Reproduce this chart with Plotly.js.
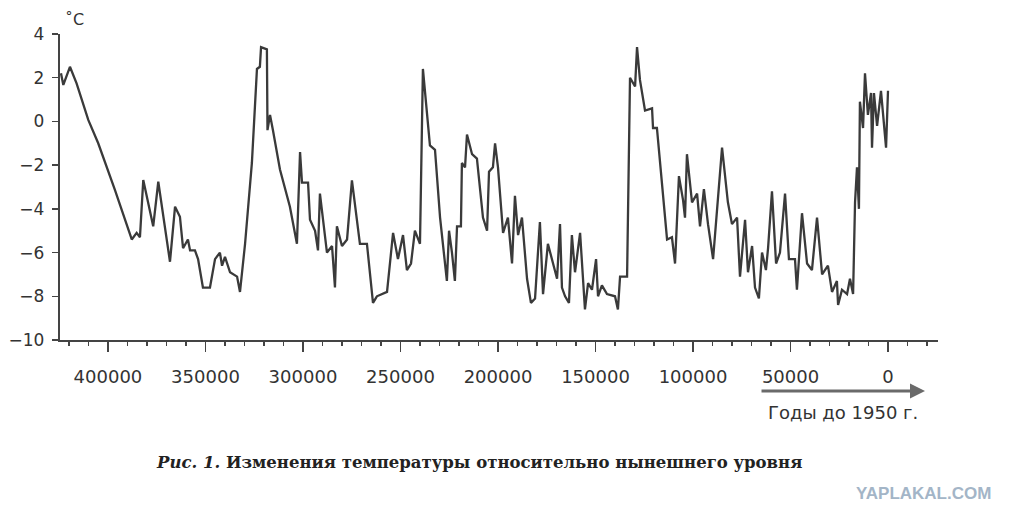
<!DOCTYPE html>
<html>
<head>
<meta charset="utf-8">
<script src="https://cdn.plot.ly/plotly-3.0.1.min.js"></script>
<style>html,body{margin:0;padding:0;background:#fff;}#chart{width:1018px;height:523px;}</style>
</head>
<body>
<div id="chart"></div>
<script>
// Years before 1950 (x) and temperature change, °C (y)
var years = [424100, 422900, 419500, 416100, 410100, 405000, 396400, 387800, 385300, 383600,
  381900, 376800, 374200, 368200, 365600, 363100, 361500, 359000, 357900, 355400,
  353800, 351300, 347700, 345100, 342600, 341500, 340000, 337400, 333800, 332300,
  329700, 326200, 323600, 322100, 321500, 318500, 318200, 316900, 315400, 311800,
  306700, 303100, 301500, 300500, 297400, 296400, 293800, 292300, 291300, 289700,
  287700, 285100, 283600, 282600, 280000, 277400, 274900, 270800, 267200, 264100,
  262100, 256900, 253800, 251300, 248700, 246700, 244600, 242600, 240000, 238500,
  234900, 232300, 229700, 226200, 225100, 223600, 222100, 221000, 219000, 218500,
  216900, 215900, 213300, 210800, 207700, 205600, 204600, 202600, 201500, 200000,
  197400, 194900, 192800, 191300, 189700, 187700, 185100, 183100, 181000, 178500,
  176900, 174400, 171800, 169700, 168200, 167200, 165600, 163600, 162100, 160500,
  157900, 155400, 153800, 151800, 149700, 148700, 146700, 144100, 140000, 138500,
  137400, 133800, 132300, 129700, 128700, 127200, 124600, 121000, 120500, 118500,
  113300, 110800, 109200, 107200, 105100, 104100, 103100, 100500, 97900, 96400,
  94400, 92300, 89700, 85100, 82100, 80000, 77400, 75900, 73300, 71800,
  69700, 68200, 66200, 64600, 62600, 61500, 59500, 57400, 55400, 52800,
  50800, 47700, 46700, 44100, 41500, 39000, 36400, 33800, 30800, 28700,
  26200, 25600, 23600, 21000, 19500, 17900, 16900, 15900, 14900, 14400,
  12800, 11800, 10300, 8700, 8200, 7200, 5600, 3600, 2600, 1000,
  0];
var temps = [2.2, 1.67, 2.5, 1.74, 0.07, -1.0, -3.14, -5.4, -5.1, -5.3,
  -2.68, -4.8, -2.76, -6.42, -3.9, -4.36, -5.8, -5.4, -5.9, -5.9,
  -6.3, -7.6, -7.6, -6.3, -6.0, -6.6, -6.2, -6.9, -7.1, -7.8,
  -5.6, -1.9, 2.4, 2.5, 3.4, 3.3, -0.4, 0.3, -0.4, -2.2,
  -3.9, -5.6, -1.4, -2.8, -2.8, -4.5, -5.0, -5.9, -3.3, -4.6,
  -6.0, -5.7, -7.6, -4.8, -5.7, -5.4, -2.7, -5.6, -5.6, -8.3,
  -8.0, -7.8, -5.1, -6.3, -5.2, -6.8, -6.5, -5.0, -5.6, 2.4,
  -1.1, -1.3, -4.4, -7.3, -5.0, -6.0, -7.3, -4.8, -4.8, -1.9,
  -2.1, -0.6, -1.5, -1.7, -4.4, -5.0, -2.3, -2.1, -1.0, -2.1,
  -5.1, -4.4, -6.5, -3.4, -5.2, -4.4, -7.2, -8.3, -8.1, -4.6,
  -7.9, -5.6, -6.5, -7.2, -4.7, -7.6, -8.0, -8.3, -5.2, -6.9,
  -5.1, -8.6, -7.4, -7.7, -6.3, -8.0, -7.5, -7.9, -8.0, -8.6,
  -7.1, -7.1, 2.0, 1.6, 3.4, 1.9, 0.5, 0.6, -0.3, -0.3,
  -5.4, -5.3, -6.5, -2.5, -3.6, -4.4, -1.5, -3.7, -3.3, -4.8,
  -3.1, -4.7, -6.3, -1.2, -3.7, -4.7, -4.4, -7.1, -4.5, -6.9,
  -5.7, -7.6, -8.1, -6.0, -6.8, -5.8, -3.2, -6.5, -6.0, -3.3,
  -6.3, -6.3, -7.7, -4.2, -6.5, -6.8, -4.4, -7.0, -6.6, -7.8,
  -7.3, -8.4, -7.7, -7.9, -7.2, -7.9, -3.7, -2.1, -4.0, 0.9,
  -0.3, 2.2, 0.3, 1.3, -1.2, 1.3, -0.2, 1.4, 0.4, -1.2,
  1.4];

var xTickVals = [400000, 350000, 300000, 250000, 200000, 150000, 100000, 50000, 0];
var xTickText = ['400000', '350000', '300000', '250000', '200000', '150000', '100000', '50000', '0'];
var yTickVals = [4, 2, 0, -2, -4, -6, -8, -10];
var yTickText = ['4', '2', '0', '\u22122', '\u22124', '\u22126', '\u22128', '\u221210'];

var unitLabel = '\u02DAC';
var xAxisLabel = 'Годы до 1950 г.';
var captionText = '<b><i>Рис. 1.</i> Изменения температуры относительно нынешнего уровня</b>';
var watermark = '<b>YAPLAKAL.COM</b>';

var axisColor = '#444';
var tickFont = {family: 'DejaVu Sans, Liberation Sans, sans-serif', size: 17, color: '#333'};
var xTickFont = {family: 'DejaVu Sans, Liberation Sans, sans-serif', size: 18, color: '#333'};

var trace = {
  x: years, y: temps, type: 'scatter', mode: 'lines',
  line: {color: '#3a3a3a', width: 2.3},
  hoverinfo: 'skip'
};

var layout = {
  width: 1018, height: 523,
  margin: {l: 60, r: 80, t: 34, b: 183, pad: 0},
  paper_bgcolor: '#ffffff', plot_bgcolor: '#ffffff',
  showlegend: false,
  xaxis: {
    range: [424600, -25640], fixedrange: true,
    tickmode: 'array', tickvals: xTickVals, ticktext: xTickText,
    ticks: 'outside', ticklen: 10, tickwidth: 1.8, tickcolor: axisColor,
    showline: true, linecolor: axisColor, linewidth: 2.2,
    showgrid: false, zeroline: false,
    tickfont: xTickFont, ticklabelstandoff: 9,
    minor: {dtick: 10000, tick0: 0, ticks: 'outside', ticklen: 4, tickwidth: 1.8, tickcolor: axisColor, showgrid: false}
  },
  yaxis: {
    range: [-10, 4], fixedrange: true,
    tickmode: 'array', tickvals: yTickVals, ticktext: yTickText,
    ticks: 'outside', ticklen: 6, tickwidth: 1.5, tickcolor: axisColor,
    showline: true, linecolor: axisColor, linewidth: 2.2,
    showgrid: false, zeroline: false,
    tickfont: tickFont, ticklabelstandoff: 4
  },
  annotations: [
    {text: unitLabel, xref: 'paper', yref: 'paper', x: 0.003, y: 1.046, xanchor: 'left', yanchor: 'middle',
     showarrow: false, font: {family: 'DejaVu Sans, sans-serif', size: 16, color: '#333'}},
    {text: '', xref: 'paper', yref: 'paper', x: 0.9852, y: -0.1667, showarrow: true,
     ax: -165, ay: 0, arrowhead: 2, arrowsize: 1, arrowwidth: 3, arrowcolor: '#6a6a6a'},
    {text: xAxisLabel, xref: 'paper', yref: 'paper', x: 0.8918, y: -0.2353, xanchor: 'center', yanchor: 'middle',
     showarrow: false, font: {family: 'DejaVu Sans, sans-serif', size: 18, color: '#333'}},
    {text: captionText, xref: 'paper', yref: 'paper', x: 0.477, y: -0.3987, xanchor: 'center', yanchor: 'middle',
     showarrow: false, font: {family: 'DejaVu Serif, Liberation Serif, serif', size: 16.5, color: '#222'}},
    {text: watermark, xref: 'paper', yref: 'paper', x: 0.984, y: -0.50, xanchor: 'center', yanchor: 'middle',
     showarrow: false, font: {family: 'Liberation Sans Narrow, Liberation Sans, sans-serif', size: 17, color: '#a3b5c7'}}
  ]
};

Plotly.newPlot('chart', [trace], layout, {staticPlot: true, displayModeBar: false});
</script>
</body>
</html>
